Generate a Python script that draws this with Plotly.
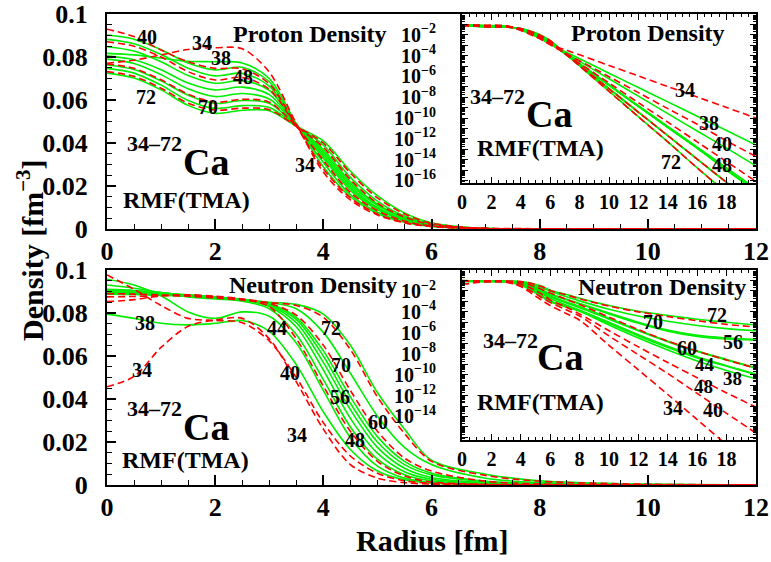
import plotly.graph_objects as go

# ---------------- data ----------------
radius_core = [0, 0.5, 1, 1.5, 2, 2.5, 3, 3.5, 4, 4.5, 5, 5.5, 6]
radius_tail = [7, 8, 10, 12, 14, 16, 18, 20]
isotopes = [34, 38, 40, 44, 48, 50, 52, 54, 56, 58, 60, 64, 70, 72]
dashed_isotopes = [34, 40, 48, 60, 70]

# proton density [fm^-3], r = 0 ... 6 fm
p34 = [0.0771, 0.0785, 0.081, 0.0835, 0.0843, 0.0838, 0.073, 0.049, 0.0265, 0.0135, 0.0065, 0.0029, 0.0012]
p38 = [0.0817, 0.081, 0.0795, 0.078, 0.0778, 0.0772, 0.070, 0.049, 0.029, 0.015, 0.0072, 0.0031, 0.0012]
p40 = [0.0929, 0.0895, 0.0833, 0.0778, 0.0747, 0.0745, 0.0675, 0.048, 0.028, 0.0145, 0.007, 0.003, 0.0011]
p44 = [0.0902, 0.0883, 0.0834, 0.0772, 0.074, 0.0752, 0.0685, 0.0485, 0.031, 0.016, 0.0078, 0.0034, 0.0013]
p48 = [0.0871, 0.085, 0.080, 0.0732, 0.0693, 0.0705, 0.065, 0.048, 0.032, 0.017, 0.0085, 0.0037, 0.0014]
p50 = [0.0882, 0.0862, 0.0812, 0.0748, 0.0712, 0.0724, 0.0665, 0.0485, 0.033, 0.018, 0.009, 0.004, 0.0015]
p52 = [0.0848, 0.0828, 0.0778, 0.0714, 0.0678, 0.069, 0.0645, 0.0485, 0.034, 0.019, 0.0095, 0.0042, 0.0016]
p54 = [0.0805, 0.0787, 0.0741, 0.0679, 0.0647, 0.066, 0.0625, 0.0485, 0.035, 0.020, 0.010, 0.0045, 0.0017]
p56 = [0.079, 0.077, 0.0718, 0.0652, 0.0616, 0.063, 0.0605, 0.0485, 0.036, 0.021, 0.011, 0.005, 0.0019]
p58 = [0.0763, 0.0742, 0.0689, 0.0622, 0.0584, 0.0598, 0.0585, 0.048, 0.037, 0.022, 0.0115, 0.0053, 0.002]
p60 = [0.0768, 0.0747, 0.0694, 0.0627, 0.059, 0.0603, 0.059, 0.048, 0.038, 0.023, 0.012, 0.0056, 0.0021]
p64 = [0.0747, 0.0725, 0.0669, 0.0598, 0.0561, 0.0574, 0.0565, 0.048, 0.039, 0.024, 0.013, 0.006, 0.0023]
p70 = [0.0732, 0.071, 0.0655, 0.0585, 0.0553, 0.0562, 0.0555, 0.0478, 0.040, 0.026, 0.0145, 0.007, 0.0027]
p72 = [0.0725, 0.0702, 0.0647, 0.0575, 0.0538, 0.0552, 0.055, 0.0478, 0.041, 0.027, 0.0155, 0.0075, 0.0029]

# proton density tails, log10 values at r = 7 ... 20 fm
p34_tail = [-3.43, -3.93, -4.94, -5.96, -6.97, -7.98, -8.99, -10.0]
p38_tail = [-3.61, -4.30, -5.69, -7.07, -8.45, -9.83, -11.2, -12.6]
p40_tail = [-3.73, -4.49, -6.03, -7.56, -9.1, -10.6, -12.2, -13.7]
p44_tail = [-3.73, -4.56, -6.23, -7.9, -9.58, -11.25, -12.9, -14.6]
p48_tail = [-3.8, -4.74, -6.63, -8.53, -10.4, -12.3, -14.2, -16.1]
p50_tail = [-3.82, -4.82, -6.82, -8.82, -10.8, -12.8, -14.8, -16.8]
p52_tail = [-3.8, -4.83, -6.86, -8.9, -10.9, -12.9, -15.0, -17.0]
p54_tail = [-3.79, -4.8, -6.84, -8.89, -10.9, -12.9, -15.0, -17.0]
p56_tail = [-3.75, -4.77, -6.8, -8.85, -10.9, -12.9, -15.0, -17.0]
p58_tail = [-3.83, -4.95, -7.2, -9.45, -11.7, -13.95, -16.2, -18.45]
p60_tail = [-3.81, -4.94, -7.19, -9.45, -11.7, -13.95, -16.2, -18.45]
p64_tail = [-3.77, -4.9, -7.16, -9.42, -11.7, -13.95, -16.2, -18.45]
p70_tail = [-3.79, -5.0, -7.45, -9.89, -12.3, -14.8, -17.2, -19.6]
p72_tail = [-3.76, -4.98, -7.43, -9.87, -12.3, -14.8, -17.2, -19.6]

# neutron density [fm^-3], r = 0 ... 6 fm
n34 = [0.0457, 0.0505, 0.064, 0.0738, 0.0767, 0.0775, 0.068, 0.048, 0.026, 0.0095, 0.0032, 0.0011, 0.0004]
n38 = [0.0795, 0.0775, 0.0752, 0.0745, 0.0752, 0.0765, 0.0715, 0.056, 0.034, 0.0165, 0.0065, 0.0024, 0.0009]
n40 = [0.0977, 0.091, 0.0835, 0.0775, 0.0765, 0.0755, 0.067, 0.050, 0.029, 0.0135, 0.0055, 0.002, 0.0008]
n44 = [0.0957, 0.093, 0.088, 0.0805, 0.0775, 0.0805, 0.0785, 0.066, 0.044, 0.022, 0.0088, 0.0032, 0.0011]
n48 = [0.0853, 0.0862, 0.088, 0.0885, 0.0878, 0.0865, 0.083, 0.068, 0.046, 0.025, 0.011, 0.0042, 0.0014]
n50 = [0.093, 0.0915, 0.0895, 0.0875, 0.0865, 0.0855, 0.082, 0.070, 0.049, 0.027, 0.012, 0.0048, 0.002]
n52 = [0.091, 0.0905, 0.0895, 0.088, 0.087, 0.086, 0.083, 0.0735, 0.0535, 0.031, 0.0148, 0.0062, 0.0027]
n54 = [0.0905, 0.0902, 0.0894, 0.0882, 0.0872, 0.0861, 0.0835, 0.0755, 0.057, 0.035, 0.0175, 0.0078, 0.0035]
n56 = [0.0899, 0.0897, 0.0893, 0.0885, 0.0875, 0.0862, 0.084, 0.077, 0.060, 0.038, 0.020, 0.0095, 0.0047]
n58 = [0.0895, 0.0894, 0.0891, 0.0884, 0.0875, 0.0863, 0.0843, 0.078, 0.0625, 0.041, 0.0225, 0.011, 0.0055]
n60 = [0.0875, 0.0877, 0.088, 0.088, 0.0875, 0.0865, 0.0845, 0.079, 0.065, 0.044, 0.025, 0.0125, 0.0065]
n64 = [0.089, 0.0889, 0.0886, 0.088, 0.0872, 0.0862, 0.0848, 0.082, 0.071, 0.052, 0.032, 0.0175, 0.0095]
n70 = [0.089, 0.0888, 0.0884, 0.0878, 0.087, 0.086, 0.0848, 0.0835, 0.078, 0.063, 0.041, 0.024, 0.011]
n72 = [0.0888, 0.0886, 0.0882, 0.0877, 0.0869, 0.086, 0.085, 0.084, 0.0795, 0.065, 0.043, 0.026, 0.0115]

# neutron density tails, log10 values at r = 7 ... 20 fm
n34_tail = [-4.1, -4.8, -7.2, -9.55, -11.9, -14.3, -16.7, -19.0]
n38_tail = [-3.5, -3.95, -5.25, -6.5, -7.65, -8.7, -9.6, -10.4]
n40_tail = [-3.75, -4.4, -6.3, -8.1, -9.9, -11.8, -13.7, -15.6]
n44_tail = [-3.4, -3.85, -5.1, -6.3, -7.4, -8.4, -9.2, -10.0]
n48_tail = [-3.5, -4.2, -5.8, -7.35, -8.85, -10.3, -11.75, -13.1]
n50_tail = [-3.3, -3.85, -5.0, -6.2, -7.3, -8.3, -9.15, -9.95]
n52_tail = [-3.1, -3.6, -4.7, -5.8, -6.85, -7.8, -8.6, -9.4]
n54_tail = [-3.0, -3.5, -4.6, -5.75, -6.8, -7.75, -8.55, -9.35]
n56_tail = [-2.8, -3.25, -4.2, -5.1, -5.85, -6.35, -6.6, -6.7]
n58_tail = [-2.75, -3.2, -4.1, -5.0, -5.75, -6.25, -6.5, -6.65]
n60_tail = [-2.75, -3.3, -4.5, -5.7, -6.8, -7.75, -8.6, -9.4]
n64_tail = [-2.5, -2.95, -3.75, -4.4, -4.9, -5.3, -5.6, -5.8]
n70_tail = [-2.35, -2.75, -3.45, -4.0, -4.45, -4.85, -5.2, -5.45]
n72_tail = [-2.3, -2.7, -3.4, -3.95, -4.35, -4.7, -5.0, -5.26]

proton_core = {34: p34, 38: p38, 40: p40, 44: p44, 48: p48, 50: p50, 52: p52,
               54: p54, 56: p56, 58: p58, 60: p60, 64: p64, 70: p70, 72: p72}
proton_tail = {34: p34_tail, 38: p38_tail, 40: p40_tail, 44: p44_tail, 48: p48_tail,
               50: p50_tail, 52: p52_tail, 54: p54_tail, 56: p56_tail, 58: p58_tail,
               60: p60_tail, 64: p64_tail, 70: p70_tail, 72: p72_tail}
neutron_core = {34: n34, 38: n38, 40: n40, 44: n44, 48: n48, 50: n50, 52: n52,
                54: n54, 56: n56, 58: n58, 60: n60, 64: n64, 70: n70, 72: n72}
neutron_tail = {34: n34_tail, 38: n38_tail, 40: n40_tail, 44: n44_tail, 48: n48_tail,
                50: n50_tail, 52: n52_tail, 54: n54_tail, 56: n56_tail, 58: n58_tail,
                60: n60_tail, 64: n64_tail, 70: n70_tail, 72: n72_tail}

# ---------------- style ----------------
W, H = 771, 562
FONT = "Liberation Serif"
GREEN = "#00ee00"
RED = "#ff0000"


def px_x(x):
    return x / W


def px_y(y):
    return 1 - y / H


radius_all = radius_core + radius_tail

fig = go.Figure()

order = [a for a in isotopes if a not in dashed_isotopes] + [a for a in isotopes if a in dashed_isotopes]
for a in order:
    dens_p = proton_core[a] + [10 ** v for v in proton_tail[a]]
    dens_n = neutron_core[a] + [10 ** v for v in neutron_tail[a]]
    is_dash = a in dashed_isotopes
    line = dict(color=RED if is_dash else GREEN, width=1.6,
                dash="7px,4px" if is_dash else "solid", shape="spline", smoothing=0.9)
    for dens, xa, ya in [(dens_p, "x", "y"), (dens_n, "x2", "y2"),
                         (dens_p, "x3", "y3"), (dens_n, "x4", "y4")]:
        fig.add_trace(go.Scatter(x=radius_all, y=dens, mode="lines", line=line,
                                 xaxis=xa, yaxis=ya, showlegend=False,
                                 name="%dCa" % a, hoverinfo="skip"))

tickfont_main = dict(family=FONT, size=26, color="black", weight="bold")
tickfont_inset = dict(family=FONT, size=20, color="black", weight="bold")

main_x = dict(range=[0, 12], dtick=2, tick0=0, ticks="inside", ticklen=10, tickwidth=1.5,
              tickcolor="black", showline=True, linecolor="black", linewidth=2, mirror=True,
              showgrid=False, zeroline=False, tickfont=tickfont_main, ticklabelstandoff=-2,
              automargin=False,
              minor=dict(dtick=0.5, ticks="inside", ticklen=5, tickwidth=1.2, tickcolor="black",
                         showgrid=False))
main_y = dict(range=[0, 0.1], dtick=0.02, tick0=0, ticks="inside", ticklen=9, tickwidth=1.5,
              tickcolor="black", showline=True, linecolor="black", linewidth=2, mirror=True,
              showgrid=False, zeroline=False, tickfont=tickfont_main, ticklabelstandoff=12,
              automargin=False,
              minor=dict(dtick=0.005, ticks="inside", ticklen=5, tickwidth=1.2, tickcolor="black",
                         showgrid=False))

inset_x = dict(range=[0, 20], tickvals=list(range(0, 21, 2)),
               ticktext=[str(v) for v in range(0, 19, 2)] + [""],
               ticks="inside", ticklen=6, tickwidth=1.2, tickcolor="black",
               showline=True, linecolor="black", linewidth=2, mirror="ticks",
               showgrid=False, zeroline=False, tickfont=tickfont_inset, ticklabelstandoff=0,
               automargin=False,
               minor=dict(dtick=0.5, ticks="inside", ticklen=3, tickwidth=1, tickcolor="black",
                          showgrid=False))

decades = list(range(-17, 1))
minor_vals = [m * 10.0 ** k for k in decades for m in range(2, 10)]


def inset_y(lowest_label):
    vals = [10.0 ** k for k in range(-16, 1)]
    text = []
    for k in range(-16, 1):
        if k % 2 == 0 and lowest_label <= k <= -2:
            text.append("10<sup>\u2212%d</sup>" % (-k))
        else:
            text.append("")
    return dict(type="log", range=[-16.25, 0], tickvals=vals, ticktext=text,
                ticks="inside", ticklen=6, tickwidth=1.2, tickcolor="black",
                showline=True, linecolor="black", linewidth=2, mirror="ticks",
                showgrid=False, zeroline=False, tickfont=tickfont_inset, ticklabelstandoff=20,
                automargin=False,
                minor=dict(tickvals=minor_vals, ticks="inside", ticklen=3, tickwidth=1,
                           tickcolor="black", showgrid=False))


xl, xr = px_x(107), px_x(756)
ixl = px_x(462)

layout = dict(
    width=W, height=H, margin=dict(l=0, r=0, t=0, b=0, autoexpand=False),
    paper_bgcolor="white", plot_bgcolor="rgba(0,0,0,0)", showlegend=False,
    xaxis=dict(main_x, domain=[xl, xr], anchor="y"),
    yaxis=dict(main_y, domain=[px_y(229), px_y(14)], anchor="x"),
    xaxis2=dict(main_x, domain=[xl, xr], anchor="y2"),
    yaxis2=dict(main_y, domain=[px_y(485), px_y(270)], anchor="x2"),
    xaxis3=dict(inset_x, domain=[ixl, xr], anchor="y3"),
    yaxis3=dict(inset_y(-16), domain=[px_y(183), px_y(14)], anchor="x3"),
    xaxis4=dict(inset_x, domain=[ixl, xr], anchor="y4"),
    yaxis4=dict(inset_y(-14), domain=[px_y(440), px_y(270)], anchor="x4"),
)
fig.update_layout(**layout)


def ann(x, y, text, size, angle=0):
    return dict(x=px_x(x), y=px_y(y), xref="paper", yref="paper", text=text,
                showarrow=False, textangle=angle, xanchor="center", yanchor="middle",
                font=dict(family=FONT, size=size, color="black", weight="bold"))


annotations = [
    # top main panel
    ann(310, 34, "Proton Density", 24),
    ann(147, 37, "40", 20), ann(202, 43, "34", 20), ann(221, 58, "38", 20),
    ann(243, 77, "48", 20), ann(146, 97, "72", 20), ann(208, 107, "70", 20),
    ann(305, 165, "34", 20),
    ann(154, 143, "34\u201372", 22), ann(206, 162, "Ca", 38),
    ann(186, 200, "RMF(TMA)", 24),
    # top inset
    ann(648, 33, "Proton Density", 24),
    ann(497, 97, "34\u201372", 22), ann(549, 114, "Ca", 38),
    ann(540, 148, "RMF(TMA)", 24),
    ann(685, 90, "34", 20), ann(709, 123, "38", 20), ann(722, 144, "40", 20),
    ann(722, 165, "48", 20), ann(671, 162, "72", 20),
    # bottom main panel
    ann(313, 285, "Neutron Density", 24),
    ann(145, 323, "38", 20), ann(142, 370, "34", 20),
    ann(154, 408, "34\u201372", 22), ann(206, 427, "Ca", 38),
    ann(185, 460, "RMF(TMA)", 24),
    ann(277, 328, "44", 20), ann(331, 328, "72", 20), ann(341, 365, "70", 20),
    ann(290, 373, "40", 20), ann(340, 397, "56", 20), ann(378, 422, "60", 20),
    ann(297, 435, "34", 20), ann(355, 440, "48", 20),
    # bottom inset
    ann(662, 287, "Neutron Density", 24),
    ann(510, 340, "34\u201372", 22), ann(560, 357, "Ca", 38),
    ann(540, 402, "RMF(TMA)", 24),
    ann(717, 315, "72", 20), ann(653, 322, "70", 20), ann(733, 342, "56", 20),
    ann(687, 348, "60", 20), ann(705, 364, "44", 19), ann(732, 378, "38", 19),
    ann(703, 387, "48", 19), ann(673, 408, "34", 20), ann(713, 410, "40", 20),
    # axis titles
    ann(432, 540, "Radius [fm]", 30),
    ann(30, 250, "Density [fm<sup>\u22123</sup>]", 30, angle=-90),
]
fig.update_layout(annotations=annotations)

fig.write_html("out.html", config={"displayModeBar": False},
               post_script="document.body.style.margin='0px';")
